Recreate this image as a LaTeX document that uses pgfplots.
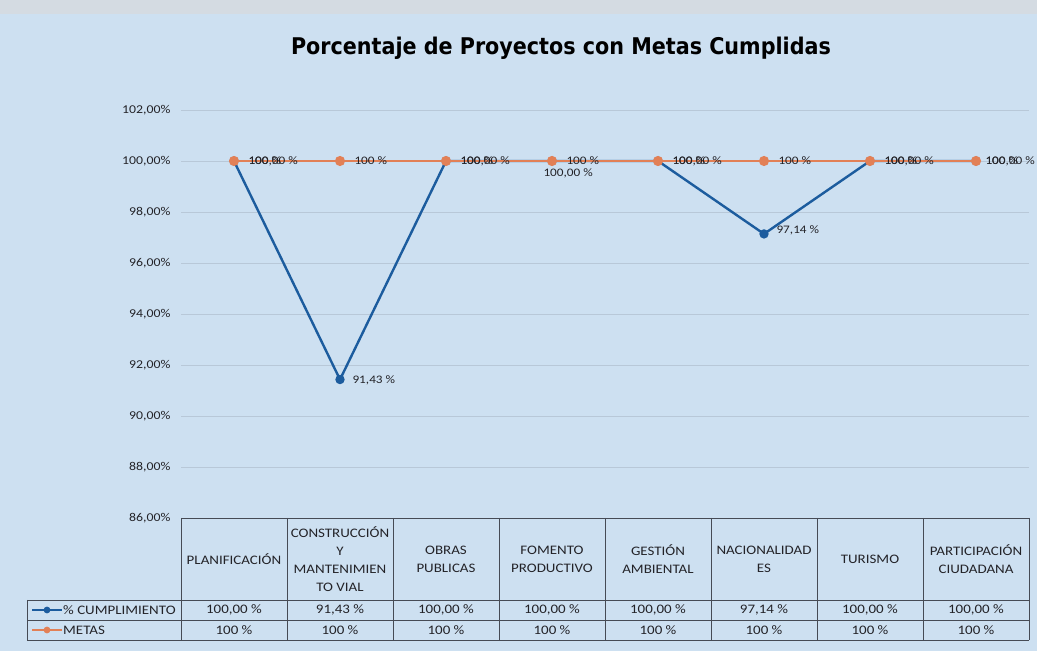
\documentclass[border=0pt]{standalone}
\usepackage{pgfplots}
\pgfplotsset{compat=1.18}
\usepackage{fontspec}
\setmainfont{Carlito}[FakeStretch=1.15]
\newfontfamily\titlefont{DejaVu Sans Condensed}
\definecolor{bg}{RGB}{205,224,241}
\definecolor{gridc}{RGB}{184,200,216}
\definecolor{cblue}{RGB}{28,92,158}
\definecolor{corange}{RGB}{226,128,86}
\definecolor{txt}{RGB}{35,35,40}
\definecolor{tline}{RGB}{70,75,85}
\begin{document}
\begin{tikzpicture}[x=1pt,y=1pt]
\useasboundingbox (0,0) rectangle (1037,651);
\fill[bg] (0,0) rectangle (1037,651);
\fill[white!70!gray, opacity=0.6] (0,637) rectangle (1037,651);
\node[font=\titlefont\bfseries\fontsize{23}{26}\selectfont, text=black] at (561,603) {Porcentaje de Proyectos con Metas Cumplidas};
\begin{axis}[at={(181pt,133pt)}, anchor=south west, scale only axis,
  width=848pt, height=408pt,
  xmin=-0.5, xmax=7.5, ymin=86, ymax=102,
  ytick={86,88,90,92,94,96,98,100,102},
  yticklabels={{86,00\%},{88,00\%},{90,00\%},{92,00\%},{94,00\%},{96,00\%},{98,00\%},{100,00\%},{102,00\%}},
  xtick=\empty, axis line style={draw=none}, ymajorgrids,
  grid style={gridc, line width=0.8pt}, major tick length=0pt,
  yticklabel style={font=\fontsize{12}{14}\selectfont, text=txt, anchor=east, xshift=-7pt},
  clip=false]
\addplot[cblue, line width=2.4pt, mark=*, mark size=3.4pt] coordinates {(0,100) (1,91.43) (2,100) (3,100) (4,100) (5,97.14) (6,100) (7,100)};
\addplot[corange, line width=2.4pt, mark=*, mark size=3.8pt] coordinates {(0,100) (1,100) (2,100) (3,100) (4,100) (5,100) (6,100) (7,100)};
% blue labels to the right
\addplot[draw=none, mark=none, nodes near coords, point meta=explicit symbolic,
  every node near coord/.append style={anchor=west, xshift=11pt, font=\fontsize{11.5}{13}\selectfont, text=txt}]
  coordinates {(0,100) [100,00 \%] (2,100) [100,00 \%] (4,100) [100,00 \%] (6,100) [100,00 \%]};
\addplot[draw=none, mark=none, nodes near coords, point meta=explicit symbolic,
  every node near coord/.append style={anchor=west, xshift=6pt, font=\fontsize{11.5}{13}\selectfont, text=txt}]
  coordinates {(7,100) [100,00 \%]};
\addplot[draw=none, mark=none, nodes near coords, point meta=explicit symbolic,
  every node near coord/.append style={anchor=west, xshift=9pt, yshift=-1pt, font=\fontsize{11.5}{13}\selectfont, text=txt}]
  coordinates {(1,91.43) [91,43 \%]};
\addplot[draw=none, mark=none, nodes near coords, point meta=explicit symbolic,
  every node near coord/.append style={anchor=west, xshift=9pt, yshift=4pt, font=\fontsize{11.5}{13}\selectfont, text=txt}]
  coordinates {(5,97.14) [97,14 \%]};
\addplot[draw=none, mark=none, nodes near coords, point meta=explicit symbolic,
  every node near coord/.append style={anchor=north west, xshift=-12pt, yshift=-4pt, font=\fontsize{11.5}{13}\selectfont, text=txt}]
  coordinates {(3,100) [100,00 \%]};
% orange labels
\addplot[draw=none, mark=none, nodes near coords, point meta=explicit symbolic,
  every node near coord/.append style={anchor=west, xshift=11pt, font=\fontsize{11.5}{13}\selectfont, text=txt}]
  coordinates {(0,100) [100 \%] (1,100) [100 \%] (2,100) [100 \%] (3,100) [100 \%] (4,100) [100 \%] (5,100) [100 \%] (6,100) [100 \%]};
\addplot[draw=none, mark=none, nodes near coords, point meta=explicit symbolic,
  every node near coord/.append style={anchor=west, xshift=6pt, font=\fontsize{11.5}{13}\selectfont, text=txt}]
  coordinates {(7,100) [100 \%]};
\end{axis}
% data table
\begin{scope}[tline, line width=0.8pt]
\foreach \i in {0,...,8} \draw (181+106*\i,133) -- (181+106*\i,11);
\draw (181,133) -- (1029,133);
\draw (27,51) -- (1029,51);
\draw (27,31) -- (1029,31);
\draw (27,11) -- (1029,11);
\draw (27,51) -- (27,11);
\end{scope}
\begin{scope}[font=\fontsize{13}{18}\selectfont, text=txt]
\foreach \i/\t in {0/{PLANIFICACIÓN}, 1/{CONSTRUCCIÓN\\Y\\MANTENIMIEN\\TO VIAL}, 2/{OBRAS\\PUBLICAS}, 3/{FOMENTO\\PRODUCTIVO}, 4/{GESTIÓN\\AMBIENTAL}, 5/{NACIONALIDAD\\ES}, 6/{TURISMO}, 7/{PARTICIPACIÓN\\CIUDADANA}}
  \node[align=center, inner sep=0pt] at (234+106*\i, 92) {\t};
\foreach \i/\t in {0/{100,00 \%}, 1/{91,43 \%}, 2/{100,00 \%}, 3/{100,00 \%}, 4/{100,00 \%}, 5/{97,14 \%}, 6/{100,00 \%}, 7/{100,00 \%}}
  \node at (234+106*\i, 41) {\t};
\foreach \i in {0,...,7}
  \node at (234+106*\i, 21) {100 \%};
\draw[cblue, line width=2.4pt] (32,41) -- (62,41);
\fill[cblue] (47,41) circle (3.4pt);
\node[anchor=west, inner sep=1pt, font=\fontsize{13}{16}\selectfont] at (62,41) {\% CUMPLIMIENTO};
\draw[corange, line width=2.4pt] (32,21) -- (62,21);
\fill[corange] (47,21) circle (3.4pt);
\node[anchor=west, inner sep=1pt, font=\fontsize{13}{16}\selectfont] at (62,21) {METAS};
\end{scope}
\end{tikzpicture}
\end{document}
